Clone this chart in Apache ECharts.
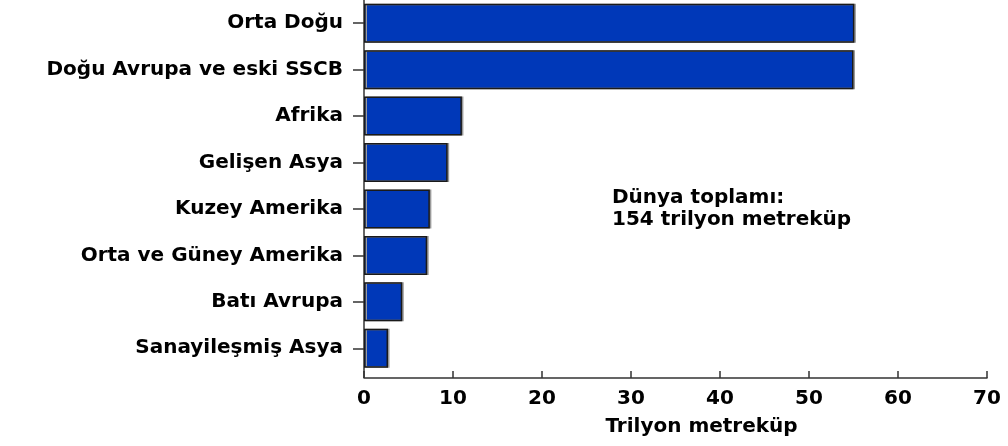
<!DOCTYPE html>
<html>
<head>
<meta charset="utf-8">
<script src="https://cdn.jsdelivr.net/npm/echarts@6/dist/echarts.min.js"></script>
<style>
  html, body { margin: 0; padding: 0; background: #fff; }
  #chart { width: 1008px; height: 446px; }
</style>
</head>
<body>
<div id="chart"></div>
<script>
// kategoriler (yukaridan asagiya)
const regions = [
  'Orta Doğu',
  'Doğu Avrupa ve eski SSCB',
  'Afrika',
  'Gelişen Asya',
  'Kuzey Amerika',
  'Orta ve Güney Amerika',
  'Batı Avrupa',
  'Sanayileşmiş Asya',
];
// trilyon metreküp
const reserves = [55.1, 55.0, 11.0, 9.4, 7.4, 7.1, 4.3, 2.7];
const xTicks = [0, 10, 20, 30, 40, 50, 60, 70];
const axisTitle = 'Trilyon metreküp';
const noteLines = ['Dünya toplamı:', '154 trilyon metreküp'];

const FONT = '"DejaVu Sans", "Liberation Sans", Arial, sans-serif';
const gridLeft = 364;
const gridTop = 0;
const gridHeight = 371.5;
const xOffset = 6.5;
const axisColor = '#333';

const chart = echarts.init(document.getElementById('chart'));

chart.setOption({
  animation: false,
  backgroundColor: '#fff',
  grid: {
    left: gridLeft,
    right: 21,
    top: gridTop,
    height: gridHeight,
  },
  xAxis: {
    type: 'value',
    min: xTicks[0],
    max: xTicks[xTicks.length - 1],
    interval: xTicks[1] - xTicks[0],
    offset: xOffset,
    name: axisTitle,
    nameLocation: 'middle',
    nameGap: 39,
    nameTextStyle: {
      fontFamily: FONT,
      fontWeight: 'bold',
      fontSize: 20,
      color: '#000',
      padding: [0, 0, 0, 52],
    },
    splitLine: { show: false },
    axisLine: { show: true, lineStyle: { color: axisColor, width: 1.5 } },
    axisTick: { show: true, inside: true, length: 7, lineStyle: { color: axisColor, width: 1.5 } },
    axisLabel: {
      margin: 11,
      fontFamily: FONT,
      fontWeight: 'bold',
      fontSize: 20,
      color: '#000',
    },
  },
  yAxis: {
    type: 'category',
    inverse: true,
    data: regions,
    axisLine: { show: true, lineStyle: { color: axisColor, width: 1.5 } },
    axisTick: { show: true, alignWithLabel: true, length: 11, lineStyle: { color: axisColor, width: 1.5 } },
    axisLabel: {
      interval: 0,
      margin: 21,
      fontFamily: FONT,
      fontWeight: 'bold',
      fontSize: 20,
      color: '#000',
    },
  },
  series: [{
    type: 'bar',
    data: reserves,
    barWidth: '84%',
    itemStyle: {
      color: '#0038b8',
      borderColor: '#1a1a1a',
      borderWidth: 1.5,
      shadowColor: '#9a9a9a',
      shadowOffsetX: 1.5,
      shadowOffsetY: 0,
      shadowBlur: 0,
    },
  }],
  graphic: [
    {
      // eksen cizgisini x eksenine kadar uzat
      type: 'line',
      shape: { x1: gridLeft, y1: gridTop + gridHeight, x2: gridLeft, y2: gridTop + gridHeight + xOffset },
      style: { stroke: axisColor, lineWidth: 1.5 },
    },
    {
      type: 'text',
      left: 612,
      top: 187,
      style: {
        text: noteLines.join('\n'),
        font: 'bold 20px ' + FONT,
        fill: '#000',
        lineHeight: 22,
      },
    },
  ],
});
</script>
</body>
</html>
